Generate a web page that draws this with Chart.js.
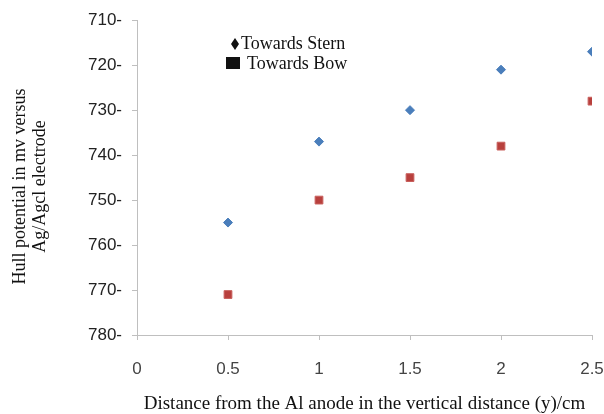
<!DOCTYPE html>
<html>
<head>
<meta charset="utf-8">
<script src="https://cdn.jsdelivr.net/npm/chart.js@4.4.0/dist/chart.umd.min.js"></script>
<style>
  html, body { margin: 0; padding: 0; background: #fff; }
  #wrap { width: 604px; height: 414px; position: relative; }
</style>
</head>
<body>
<div id="wrap"><canvas id="hullChart"></canvas></div>
<script>
// distances (cm) and potentials (mV)
var distance = [0.5, 1, 1.5, 2, 2.5];
var sternValues = [755, 737, 730, 721, 717];
var bowValues = [771, 750, 745, 738, 728];
var yTicks = [710, 720, 730, 740, 750, 760, 770, 780];
var xTicks = [0, 0.5, 1, 1.5, 2, 2.5];

function toPoints(xs, ys) {
    return xs.map(function(x, i) { return { x: x, y: ys[i] }; });
}

// legend drawn inside the plot, like the original
var innerLegend = {
    id: 'innerLegend',
    afterDraw: function(chart) {
        var ctx = chart.ctx;
        var sets = chart.data.datasets;
        ctx.save();
        ctx.fillStyle = '#111';
        ctx.font = '18px "Liberation Serif"';
        ctx.textBaseline = 'middle';
        // diamond for stern
        ctx.beginPath();
        ctx.moveTo(235, 38);
        ctx.lineTo(239, 44);
        ctx.lineTo(235, 50);
        ctx.lineTo(231, 44);
        ctx.closePath();
        ctx.fill();
        ctx.fillText(sets[0].label, 241, 44);
        // square for bow
        ctx.fillRect(226, 57, 14, 12);
        ctx.fillText(sets[1].label, 247, 64);
        ctx.restore();
    }
};

var ctx = document.getElementById('hullChart').getContext('2d');
var hullChart = new Chart(ctx, {
    type: 'scatter',
    data: {
        datasets: [{
            label: 'Towards Stern',
            data: toPoints(distance, sternValues),
            pointStyle: 'rectRot',
            pointRadius: 4.5,
            backgroundColor: '#4a7ebb',
            borderColor: '#4a7ebb',
            borderWidth: 1
        }, {
            label: 'Towards Bow',
            data: toPoints(distance, bowValues),
            pointStyle: 'rect',
            pointRadius: 5.5,
            backgroundColor: '#b8403d',
            borderColor: '#c9605d',
            borderWidth: 1
        }]
    },
    options: {
        responsive: true,
        maintainAspectRatio: false,
        animation: false,
        layout: { padding: { left: 8, right: 0, top: 10, bottom: 0 } },
        plugins: {
            legend: { display: false },
            tooltip: { enabled: false }
        },
        scales: {
            x: {
                type: 'linear',
                min: 0,
                max: 2.5,
                afterBuildTicks: function(axis) {
                    axis.ticks = xTicks.map(function(v) { return { value: v }; });
                },
                afterFit: function(axis) {
                    axis.height = 79;
                    axis.paddingRight = 12;
                },
                grid: { drawOnChartArea: false, tickLength: 5, color: '#bfbfbf' },
                border: { color: '#bfbfbf' },
                ticks: {
                    color: '#444',
                    padding: 19,
                    font: { family: 'Liberation Sans', size: 17 },
                    callback: function(v) { return String(v); }
                },
                title: {
                    display: true,
                    text: 'Distance from the Al anode in the vertical distance (y)/cm',
                    color: '#111',
                    font: { family: 'Liberation Serif', size: 19, lineHeight: 1 },
                    padding: { top: 0, bottom: 0 }
                }
            },
            y: {
                type: 'linear',
                reverse: true,
                min: 710,
                max: 780,
                afterBuildTicks: function(axis) {
                    axis.ticks = yTicks.map(function(v) { return { value: v }; });
                },
                afterFit: function(axis) { axis.width = 129; },
                grid: { drawOnChartArea: false, tickLength: 5, color: '#bfbfbf' },
                border: { color: '#bfbfbf' },
                ticks: {
                    color: '#222',
                    padding: 10,
                    font: { family: 'Liberation Sans', size: 17 },
                    callback: function(v) { return v + '-'; }
                },
                title: {
                    display: true,
                    text: ['Hull potential in mv versus    ', 'Ag/Agcl electrode    '],
                    color: '#111',
                    font: { family: 'Liberation Serif', size: 18, lineHeight: 1.12 },
                    padding: { top: 2, bottom: 0 }
                }
            }
        }
    },
    plugins: [innerLegend]
});
</script>
</body>
</html>
